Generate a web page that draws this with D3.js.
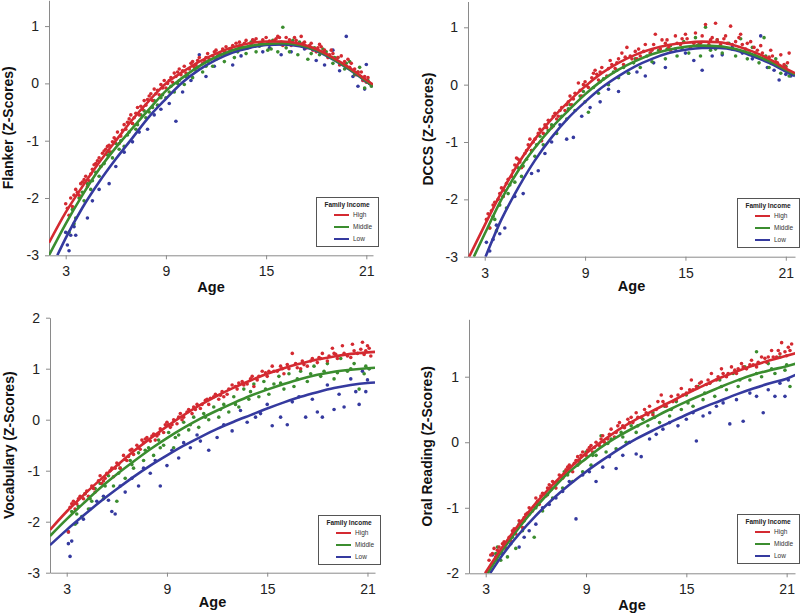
<!DOCTYPE html>
<html><head><meta charset="utf-8">
<script src="https://cdn.jsdelivr.net/npm/d3@7"></script>
<style>
html,body{margin:0;padding:0;background:#fff;}
svg{display:block;}
</style></head>
<body><svg id="chart" width="800" height="613"></svg>
<script>
// ---------------- DATA ----------------
const groups = ["High", "Middle", "Low"];
const ageTicks = [3, 9, 15, 21];
const panelTitles = ["Flanker (Z-Scores)", "DCCS (Z-Scores)", "Vocabulary (Z-Scores)", "Oral Reading (Z-Scores)"];
const yTicksFlanker = [-3, -2, -1, 0, 1];
const yTicksDCCS = [-3, -2, -1, 0, 1];
const yTicksVocab = [-3, -2, -1, 0, 1, 2];
const yTicksReading = [-2, -1, 0, 1];

// fitted curves [age, z]
const flankerHighFit = [[2,-2.78],[3,-2.25],[4,-1.8],[5,-1.38],[6,-1.0],[7,-0.63],[8,-0.3],[9,0.0],[10,0.2],[11,0.38],[12,0.52],[13,0.63],[14,0.7],[15,0.73],[16,0.73],[17,0.69],[18,0.6],[19,0.45],[20,0.27],[21,0.06],[21.4,-0.02]];
const flankerMiddleFit = [[2,-3.0],[3,-2.45],[4,-1.95],[5,-1.5],[6,-1.12],[7,-0.78],[8,-0.45],[9,-0.13],[10,0.1],[11,0.3],[12,0.46],[13,0.58],[14,0.65],[15,0.69],[16,0.7],[17,0.67],[18,0.58],[19,0.43],[20,0.25],[21,0.04],[21.4,-0.05]];
const flankerLowFit = [[2.5,-3.0],[3,-2.7],[4,-2.17],[5,-1.72],[6,-1.32],[7,-0.95],[8,-0.58],[9,-0.27],[10,0.02],[11,0.24],[12,0.41],[13,0.54],[14,0.62],[15,0.67],[16,0.68],[17,0.65],[18,0.57],[19,0.42],[20,0.24],[21,0.03],[21.4,-0.05]];

const dccsHighFit = [[2.07,-3.0],[3,-2.45],[4,-1.88],[5,-1.38],[6,-0.95],[7,-0.6],[8,-0.3],[9,-0.03],[10,0.2],[11,0.38],[12,0.52],[13,0.62],[14,0.69],[15,0.73],[16,0.75],[17,0.74],[18,0.68],[19,0.58],[20,0.45],[21,0.28],[21.55,0.2]];
const dccsMiddleFit = [[2.35,-3.0],[3,-2.6],[4,-2.0],[5,-1.5],[6,-1.1],[7,-0.75],[8,-0.45],[9,-0.17],[10,0.07],[11,0.26],[12,0.41],[13,0.53],[14,0.61],[15,0.66],[16,0.68],[17,0.67],[18,0.62],[19,0.53],[20,0.41],[21,0.26],[21.55,0.18]];
const dccsLowFit = [[3.05,-3.0],[4,-2.35],[5,-1.8],[6,-1.32],[7,-0.92],[8,-0.58],[9,-0.3],[10,-0.05],[11,0.15],[12,0.32],[13,0.45],[14,0.55],[15,0.61],[16,0.64],[17,0.64],[18,0.6],[19,0.5],[20,0.38],[21,0.23],[21.55,0.15]];

const vocabHighFit = [[2,-2.16],[3,-1.8],[4,-1.48],[5,-1.18],[6,-0.9],[7,-0.62],[8,-0.37],[9,-0.13],[10,0.09],[11,0.29],[12,0.47],[13,0.63],[14,0.77],[15,0.9],[16,1.01],[17,1.1],[18,1.18],[19,1.24],[20,1.29],[21,1.32],[21.45,1.33]];
const vocabMiddleFit = [[2,-2.28],[3,-1.95],[4,-1.64],[5,-1.34],[6,-1.07],[7,-0.82],[8,-0.58],[9,-0.36],[10,-0.16],[11,0.02],[12,0.18],[13,0.33],[14,0.47],[15,0.59],[16,0.7],[17,0.8],[18,0.88],[19,0.94],[20,0.98],[21,1.01],[21.45,1.02]];
const vocabLowFit = [[2,-2.46],[3,-2.16],[4,-1.88],[5,-1.61],[6,-1.36],[7,-1.12],[8,-0.9],[9,-0.7],[10,-0.51],[11,-0.34],[12,-0.18],[13,-0.04],[14,0.09],[15,0.22],[16,0.34],[17,0.45],[18,0.54],[19,0.62],[20,0.68],[21,0.72],[21.45,0.73]];

const readingHighFit = [[2.96,-2.0],[4,-1.6],[5,-1.25],[6,-0.93],[7,-0.65],[8,-0.4],[9,-0.17],[10,0.02],[11,0.2],[12,0.35],[13,0.48],[14,0.61],[15,0.74],[16,0.86],[17,0.98],[18,1.08],[19,1.17],[20,1.25],[21,1.32],[21.55,1.36]];
const readingMiddleFit = [[3.1,-2.0],[4,-1.65],[5,-1.3],[6,-0.99],[7,-0.71],[8,-0.45],[9,-0.25],[10,-0.06],[11,0.1],[12,0.24],[13,0.37],[14,0.5],[15,0.62],[16,0.73],[17,0.84],[18,0.94],[19,1.03],[20,1.1],[21,1.16],[21.55,1.2]];
const readingLowFit = [[3.26,-2.0],[4,-1.72],[5,-1.4],[6,-1.12],[7,-0.87],[8,-0.65],[9,-0.45],[10,-0.27],[11,-0.1],[12,0.05],[13,0.18],[14,0.3],[15,0.42],[16,0.53],[17,0.63],[18,0.73],[19,0.82],[20,0.9],[21,0.97],[21.55,1.03]];

// observed points [age, z]
const flankerHighPts = [[3.1,-2.18],[3.3,-2.0],[3.4,-2.15],[3.6,-1.85],[3.8,-1.95],[4.0,-1.72],[4.2,-1.62],[4.4,-1.7],[4.6,-1.5],[4.8,-1.4],[5.0,-1.3],[5.2,-1.22],[5.3,-1.18],[5.5,-1.1],[5.7,-1.2],[5.9,-0.95],[6.1,-0.85],[6.3,-0.92],[6.5,-0.72],[6.7,-0.68],[6.9,-0.55],[7.1,-0.6],[7.3,-0.42],[7.5,-0.4],[7.7,-0.3],[7.9,-0.28],[8.1,-0.18],[8.3,-0.1],[8.5,-0.12],[8.7,-0.02],[8.9,0.05],[9.1,0.0],[9.3,0.1],[9.5,0.18],[9.7,0.2],[9.9,0.15],[10.1,0.3],[10.4,0.25],[10.6,0.38],[10.8,0.32],[11.0,0.45],[11.3,0.4],[11.5,0.52],[11.8,0.48],[12.0,0.58],[12.3,0.5],[12.6,0.64],[12.9,0.6],[13.2,0.7],[13.5,0.65],[13.8,0.75],[14.1,0.68],[14.4,0.78],[14.7,0.7],[15.0,0.8],[15.3,0.68],[15.6,0.78],[15.9,0.72],[16.2,0.8],[16.5,0.66],[16.8,0.75],[17.1,0.82],[17.4,0.62],[17.7,0.7],[18.0,0.55],[18.3,0.64],[18.6,0.5],[18.9,0.58],[19.2,0.4],[19.5,0.48],[19.8,0.3],[20.1,0.35],[20.4,0.15],[20.7,0.2],[21.0,0.02],[21.1,0.1],
 [3.2,-2.3],[3.5,-1.95],[3.9,-1.75],[4.3,-1.8],[4.7,-1.42],[5.1,-1.45],[5.4,-1.15],[5.8,-1.02],[6.2,-1.05],[6.6,-0.8],[7.0,-0.7],[7.4,-0.55],[7.8,-0.38],[8.2,-0.3],[8.6,-0.2],[9.0,-0.08],[9.4,0.02],[9.8,0.25],[10.2,0.18],[10.7,0.28],[11.2,0.35],[11.6,0.42],[12.1,0.48],[12.5,0.56],[13.0,0.66],[13.4,0.72],[13.9,0.63],[14.3,0.74],[14.8,0.76],[15.2,0.74],[15.7,0.82],[16.0,0.66],[16.4,0.76],[16.9,0.68],[17.3,0.72],[17.8,0.58],[18.2,0.68],[18.7,0.45],[19.0,0.52],[19.4,0.32],[19.9,0.42],[20.3,0.25],[20.8,0.05],[21.2,0.0],
 [3.0,-2.1],[3.7,-1.9],[4.1,-1.68],[4.5,-1.58],[4.9,-1.35],[5.6,-1.08],[6.0,-0.98],[6.4,-0.82],[6.8,-0.62],[7.2,-0.52],[7.6,-0.45],[8.0,-0.22],[8.4,-0.18],[8.8,-0.08],[9.2,0.05],[9.6,0.12],[10.0,0.22],[10.5,0.35],[10.9,0.4],[11.4,0.45],[11.9,0.55],[12.4,0.6],[12.8,0.55],[13.3,0.6],[13.7,0.7],[14.2,0.76],[14.6,0.68],[15.1,0.7],[15.5,0.75],[15.8,0.8],[16.3,0.7],[16.7,0.8],[17.2,0.7],[17.6,0.66],[18.1,0.62],[18.5,0.58],[18.8,0.5],[19.3,0.45],[19.7,0.38],[20.0,0.28],[20.5,0.2],[20.9,0.12]];
const flankerMiddlePts = [[3.2,-2.6],[3.4,-2.2],[3.6,-2.35],[3.8,-2.0],[4.1,-2.05],[4.3,-1.75],[4.5,-1.85],[4.8,-1.55],[5.0,-1.62],[5.3,-1.4],[5.5,-1.25],[5.8,-1.3],[6.0,-1.05],[6.3,-1.0],[6.5,-1.1],[6.8,-0.85],[7.0,-0.7],[7.3,-0.72],[7.5,-0.55],[7.8,-0.6],[8.0,-0.5],[8.3,-0.3],[8.5,-0.38],[8.8,-0.2],[9.0,-0.25],[9.3,-0.05],[9.5,-0.15],[9.8,0.05],[10.1,-0.02],[10.3,0.15],[10.6,0.1],[10.9,0.28],[11.2,0.2],[11.5,0.38],[11.8,0.3],[12.2,0.5],[12.5,0.38],[12.8,0.6],[13.1,0.45],[13.4,0.65],[13.8,0.52],[14.1,0.72],[14.4,0.55],[14.8,0.68],[15.1,0.58],[15.4,0.75],[15.7,0.55],[16.0,0.98],[16.2,0.62],[16.6,0.75],[16.9,0.5],[17.2,0.65],[17.5,0.42],[17.9,0.62],[18.2,0.5],[18.6,0.55],[19.0,0.35],[19.3,0.45],[19.7,0.25],[20.0,0.38],[20.3,0.15],[20.6,0.28],[20.9,-0.08],[21.1,0.05],[21.3,-0.05],
 [3.5,-2.45],[4.0,-1.9],[4.6,-1.7],[5.1,-1.45],[5.6,-1.2],[6.2,-1.15],[6.7,-0.9],[7.2,-0.8],[7.7,-0.48],[8.2,-0.42],[8.7,-0.25],[9.2,-0.15],[9.7,0.0],[10.2,0.12],[10.8,0.22],[11.4,0.3],[12.0,0.42],[12.6,0.52],[13.3,0.55],[13.9,0.62],[14.6,0.65],[15.3,0.6],[15.9,0.68],[16.4,0.55],[17.0,0.72],[17.7,0.52],[18.4,0.6],[19.1,0.45],[19.8,0.35],[20.5,0.2],[21.2,0.0]];
const flankerLowPts = [[3.0,-2.6],[3.1,-2.82],[3.2,-2.92],[3.3,-2.65],[3.5,-2.5],[3.6,-2.65],[4.3,-2.35],[4.6,-2.05],[5.0,-1.85],[5.6,-1.75],[6.0,-1.45],[6.5,-1.2],[7.0,-1.02],[7.4,-0.85],[7.9,-0.8],[8.3,-0.55],[8.7,-0.45],[9.2,-0.35],[9.6,-0.66],[10.0,-0.15],[10.5,0.05],[11.0,0.5],[11.4,0.12],[11.9,0.3],[12.5,0.52],[13.0,0.32],[13.5,0.48],[14.2,0.75],[14.8,0.55],[15.2,0.62],[15.9,0.5],[16.5,0.55],[17.3,0.6],[18.0,0.4],[18.5,0.32],[19.0,0.58],[19.4,0.22],[19.8,0.82],[20.2,0.12],[20.5,-0.05],[20.8,0.05],[21.0,0.33],[20.9,-0.1]];

const dccsHighPts = [[3.1,-2.35],[3.2,-2.25],[3.4,-2.2],[3.6,-2.05],[3.8,-2.0],[4.0,-1.8],[4.2,-1.85],[4.4,-1.65],[4.6,-1.6],[4.8,-1.4],[5.0,-1.3],[5.2,-1.45],[5.4,-1.2],[5.6,-1.05],[5.8,-1.15],[6.0,-0.95],[6.2,-0.85],[6.4,-0.98],[6.6,-0.7],[6.8,-0.62],[7.0,-0.75],[7.2,-0.5],[7.4,-0.55],[7.6,-0.4],[7.8,-0.45],[8.0,-0.3],[8.2,-0.35],[8.4,-0.15],[8.6,0.03],[8.8,-0.2],[9.0,0.05],[9.2,-0.05],[9.4,0.12],[9.6,0.25],[9.8,0.08],[10.0,0.3],[10.3,0.15],[10.5,0.42],[10.8,0.28],[11.0,0.45],[11.3,0.35],[11.5,0.65],[11.8,0.45],[12.0,0.58],[12.3,0.5],[12.6,0.7],[12.9,0.55],[13.2,0.88],[13.5,0.62],[13.8,0.72],[14.1,0.6],[14.4,0.85],[14.7,0.7],[15.0,0.88],[15.3,0.65],[15.6,0.9],[15.9,0.72],[16.2,1.05],[16.5,0.78],[16.8,1.07],[17.1,0.7],[17.4,0.85],[17.7,1.02],[18.0,0.75],[18.3,0.88],[18.6,0.62],[18.9,0.75],[19.2,0.55],[19.5,0.68],[19.8,0.45],[20.1,0.6],[20.4,0.4],[20.7,0.52],[21.0,0.25],[21.1,0.38],[21.2,0.55],
 [3.3,-2.5],[4.1,-1.95],[4.9,-1.28],[5.7,-0.95],[6.5,-0.85],[7.3,-0.6],[8.1,-0.2],[8.9,0.0],[9.7,0.18],[10.6,0.35],[11.4,0.48],[12.2,0.62],[13.0,0.6],[13.9,0.78],[14.8,0.8],[15.7,0.68],[16.6,0.82],[17.5,0.72],[18.4,0.7],[19.3,0.6],[20.2,0.5],[20.9,0.35],
 [3.5,-2.1],[3.9,-1.9],[4.3,-1.72],[4.7,-1.5],[5.1,-1.35],[5.5,-1.15],[5.9,-1.0],[6.3,-0.78],[6.7,-0.75],[7.1,-0.55],[7.5,-0.45],[7.9,-0.35],[8.3,-0.25],[8.7,-0.1],[9.1,-0.02],[9.5,0.2],[9.9,0.22],[10.4,0.28],[10.9,0.38],[11.2,0.55],[11.7,0.5],[12.1,0.45],[12.5,0.58],[13.1,0.7],[13.6,0.78],[14.0,0.65],[14.5,0.72],[15.1,0.8],[15.5,0.72],[16.0,0.85],[16.4,0.7],[16.9,0.78],[17.3,0.8],[17.8,0.7],[18.2,0.82],[18.7,0.72],[19.1,0.65],[19.6,0.55],[20.0,0.48],[20.5,0.38],[21.0,0.3]];
const dccsMiddlePts = [[3.3,-2.5],[3.5,-2.3],[3.7,-2.55],[3.9,-2.1],[4.1,-1.95],[4.3,-2.15],[4.5,-1.75],[4.8,-1.7],[5.0,-1.45],[5.2,-1.6],[5.5,-1.3],[5.8,-1.15],[6.0,-1.25],[6.3,-0.9],[6.5,-1.05],[6.8,-0.8],[7.0,-0.7],[7.3,-0.85],[7.6,-0.55],[7.9,-0.6],[8.1,-0.35],[8.4,-0.45],[8.7,-0.2],[9.0,-0.3],[9.2,-0.48],[9.5,-0.05],[9.8,-0.15],[10.1,0.1],[10.4,0.0],[10.7,0.22],[11.0,0.12],[11.3,0.3],[11.6,0.2],[12.0,0.45],[12.3,0.3],[12.7,0.5],[13.0,0.4],[13.4,0.6],[13.8,0.45],[14.1,0.68],[14.5,0.5],[14.9,0.75],[15.2,0.55],[15.6,0.82],[15.9,0.5],[16.2,1.0],[16.5,0.6],[16.9,0.78],[17.2,0.55],[17.6,0.72],[18.0,0.5],[18.3,0.8],[18.7,0.45],[19.0,0.65],[19.4,0.38],[19.7,0.82],[20.0,0.3],[20.4,0.45],[20.7,0.2],[21.0,0.32],[21.2,0.15],
 [3.6,-2.35],[4.4,-1.9],[5.3,-1.42],[6.1,-1.05],[7.1,-0.72],[8.0,-0.42],[8.9,-0.12],[9.9,0.05],[10.9,0.25],[11.9,0.38],[12.9,0.55],[13.9,0.62],[14.8,0.62],[15.8,0.7],[16.8,0.62],[17.8,0.62],[18.8,0.55],[19.8,0.5],[20.8,0.28]];
const dccsLowPts = [[3.1,-2.75],[3.3,-2.9],[3.5,-2.7],[3.7,-2.45],[3.9,-2.6],[4.2,-2.5],[4.8,-1.95],[5.3,-1.9],[5.8,-1.55],[6.2,-1.5],[6.6,-1.2],[7.0,-1.0],[7.5,-0.7],[7.9,-0.95],[8.3,-0.92],[8.8,-0.55],[9.3,-0.4],[9.9,-0.3],[10.4,-0.08],[11.0,-0.12],[11.6,0.2],[12.1,0.22],[12.6,0.15],[13.1,0.38],[13.8,0.3],[14.4,0.62],[15.0,0.55],[15.5,0.42],[16.0,0.25],[16.6,0.5],[17.2,0.52],[17.8,0.65],[18.4,0.55],[19.0,0.45],[19.5,0.85],[19.9,0.3],[20.3,0.25],[20.6,0.08],[21.0,0.18],[21.3,0.15]];

const vocabHighPts = [[3.1,-2.2],[3.2,-1.72],[3.4,-1.6],[3.6,-1.65],[3.8,-1.5],[4.0,-1.55],[4.2,-1.4],[4.5,-1.3],[4.7,-1.42],[5.0,-1.1],[5.2,-1.2],[5.4,-1.05],[5.6,-1.0],[5.8,-1.12],[6.0,-0.85],[6.2,-0.95],[6.4,-0.7],[6.6,-0.8],[6.8,-0.6],[7.0,-0.68],[7.2,-0.5],[7.4,-0.58],[7.6,-0.45],[7.8,-0.35],[8.0,-0.42],[8.2,-0.28],[8.4,-0.32],[8.6,-0.18],[8.8,-0.25],[9.0,-0.05],[9.2,-0.15],[9.4,0.0],[9.6,-0.08],[9.8,0.12],[10.0,0.05],[10.3,0.2],[10.5,0.12],[10.8,0.3],[11.0,0.22],[11.3,0.38],[11.5,0.3],[11.8,0.45],[12.1,0.4],[12.3,0.55],[12.6,0.5],[12.9,0.68],[13.2,0.6],[13.5,0.75],[13.8,0.7],[14.1,0.85],[14.4,0.78],[14.7,0.95],[15.0,0.85],[15.3,1.05],[15.6,0.95],[15.9,1.0],[16.2,1.08],[16.5,1.3],[16.8,1.02],[17.1,1.15],[17.4,1.05],[17.7,1.2],[18.0,1.12],[18.3,1.3],[18.6,1.15],[18.9,1.4],[19.2,1.2],[19.5,1.45],[19.8,1.25],[20.1,1.48],[20.4,1.3],[20.7,1.52],[20.9,1.35],[21.1,1.4],[21.2,1.25],
 [3.5,-1.75],[4.3,-1.5],[5.1,-1.25],[5.9,-0.95],[6.7,-0.72],[7.5,-0.4],[8.3,-0.4],[9.1,-0.1],[9.9,0.0],[10.7,0.2],[11.6,0.42],[12.4,0.45],[13.3,0.72],[14.2,0.65],[15.1,0.95],[16.0,0.9],[17.0,1.0],[18.1,1.22],[19.0,1.3],[20.0,1.22],[20.6,1.38],
 [3.3,-1.65],[3.7,-1.55],[4.1,-1.45],[4.6,-1.35],[4.9,-1.2],[5.3,-1.15],[5.7,-0.95],[6.1,-0.88],[6.5,-0.78],[6.9,-0.58],[7.3,-0.55],[7.7,-0.38],[8.1,-0.32],[8.5,-0.28],[8.9,-0.1],[9.3,-0.1],[9.7,0.05],[10.2,0.15],[10.6,0.25],[11.1,0.3],[11.4,0.4],[11.9,0.5],[12.2,0.48],[12.7,0.6],[13.1,0.65],[13.6,0.68],[14.0,0.8],[14.5,0.85],[14.9,0.92],[15.4,0.95],[15.8,1.05],[16.3,1.0],[16.7,1.1],[17.2,1.08],[17.6,1.15],[18.2,1.2],[18.7,1.25],[19.1,1.28],[19.6,1.3],[20.2,1.35],[20.8,1.28],[21.0,1.45]];
const vocabMiddlePts = [[3.3,-1.8],[3.5,-2.05],[3.7,-1.7],[3.9,-1.9],[4.1,-1.45],[4.3,-1.75],[4.5,-1.6],[4.7,-1.35],[5.0,-1.25],[5.2,-1.55],[5.5,-1.1],[5.8,-1.3],[6.0,-1.6],[6.2,-0.95],[6.5,-1.15],[6.8,-0.8],[7.0,-0.95],[7.3,-0.65],[7.6,-0.8],[7.9,-0.55],[8.2,-0.7],[8.5,-0.4],[8.8,-0.5],[9.1,-0.25],[9.4,-0.55],[9.7,-0.3],[10.0,-0.05],[10.3,-0.2],[10.6,0.05],[10.9,-0.15],[11.2,0.12],[11.5,0.0],[11.8,0.25],[12.1,0.05],[12.4,0.3],[12.7,0.15],[13.0,0.45],[13.3,0.25],[13.6,0.6],[13.9,0.4],[14.2,0.7],[14.5,0.45],[14.8,0.75],[15.1,0.5],[15.4,0.7],[15.7,0.85],[16.0,0.6],[16.3,0.9],[16.6,0.65],[17.0,0.95],[17.4,0.75],[17.8,1.05],[18.2,0.85],[18.6,1.1],[19.0,0.8],[19.4,1.2],[19.8,0.95],[20.2,1.1],[20.5,0.6],[20.8,0.9],[21.1,1.0],
 [3.6,-1.85],[4.4,-1.55],[5.3,-1.3],[6.1,-1.05],[6.9,-0.88],[7.7,-0.6],[8.6,-0.55],[9.5,-0.35],[10.4,-0.1],[11.3,0.05],[12.2,0.2],[13.1,0.3],[14.0,0.55],[14.9,0.6],[15.8,0.72],[16.8,0.8],[17.6,0.9],[18.4,0.95],[19.2,0.92],[20.0,1.0],[20.9,1.05]];
const vocabLowPts = [[3.1,-2.2],[3.1,-2.43],[3.2,-2.68],[3.3,-2.38],[3.6,-2.02],[4.0,-1.95],[4.4,-1.75],[4.8,-1.6],[5.2,-1.5],[5.5,-1.58],[5.7,-1.8],[5.9,-1.85],[6.2,-1.3],[6.5,-1.42],[6.9,-1.15],[7.3,-1.3],[7.6,-0.95],[8.0,-1.05],[8.3,-0.8],[8.6,-1.3],[9.0,-0.9],[9.3,-0.6],[9.7,-0.75],[10.0,-0.45],[10.4,-0.55],[10.8,-0.3],[11.0,-0.42],[11.5,-0.6],[12.0,-0.35],[12.4,-0.1],[12.9,-0.22],[13.4,0.18],[13.8,-0.05],[14.3,0.05],[14.6,0.12],[15.0,0.3],[15.3,-0.12],[15.8,0.05],[16.2,-0.1],[16.5,0.35],[16.9,0.45],[17.3,0.05],[17.7,0.4],[18.0,0.15],[18.3,0.05],[18.6,0.68],[19.0,0.2],[19.3,0.5],[19.6,0.25],[20.0,0.8],[20.3,0.55],[20.5,0.3],[20.7,0.95],[20.9,0.55],[21.0,0.78],[21.1,1.0]];

const readingHighPts = [[3.2,-1.8],[3.4,-1.7],[3.6,-1.75],[3.8,-1.6],[4.0,-1.55],[4.2,-1.62],[4.4,-1.45],[4.6,-1.35],[4.8,-1.4],[5.0,-1.2],[5.2,-1.3],[5.4,-1.1],[5.6,-1.0],[5.8,-1.05],[6.0,-0.85],[6.2,-0.95],[6.4,-0.78],[6.6,-0.82],[6.8,-0.65],[7.0,-0.6],[7.2,-0.7],[7.4,-0.5],[7.6,-0.55],[7.8,-0.42],[8.0,-0.35],[8.2,-0.45],[8.4,-0.28],[8.6,-0.32],[8.8,-0.15],[9.0,-0.2],[9.2,-0.08],[9.4,-0.15],[9.6,0.0],[9.8,-0.05],[10.0,0.1],[10.3,0.05],[10.5,0.2],[10.8,0.15],[11.0,0.3],[11.3,0.22],[11.5,0.35],[11.8,0.3],[12.0,0.45],[12.3,0.38],[12.5,0.5],[12.8,0.55],[13.0,0.42],[13.3,0.62],[13.5,0.72],[13.8,0.55],[14.1,0.7],[14.4,0.65],[14.7,0.82],[15.0,0.75],[15.3,0.95],[15.6,0.85],[15.9,0.92],[16.2,0.88],[16.5,1.05],[16.8,0.95],[17.1,1.12],[17.4,1.0],[17.7,1.15],[18.0,1.05],[18.3,1.2],[18.6,1.12],[18.9,1.25],[19.2,1.15],[19.5,1.3],[19.8,1.22],[20.1,1.4],[20.4,1.3],[20.7,1.52],[20.9,1.38],[21.1,1.45],[21.3,1.5],
 [3.5,-1.62],[4.5,-1.5],[5.3,-1.15],[6.1,-0.9],[6.9,-0.72],[7.7,-0.48],[8.5,-0.22],[9.3,-0.05],[10.1,0.0],[10.9,0.25],[11.7,0.38],[12.6,0.45],[13.6,0.62],[14.5,0.72],[15.4,0.8],[16.3,0.95],[17.2,1.05],[18.1,1.12],[19.0,1.18],[19.9,1.3],[20.6,1.35],
 [3.3,-1.72],[3.7,-1.65],[4.1,-1.52],[4.7,-1.32],[5.1,-1.22],[5.5,-1.08],[5.9,-0.98],[6.3,-0.82],[6.7,-0.7],[7.1,-0.62],[7.5,-0.52],[7.9,-0.38],[8.3,-0.32],[8.7,-0.2],[9.1,-0.12],[9.5,-0.08],[9.9,0.05],[10.4,0.12],[10.7,0.08],[11.2,0.25],[11.6,0.3],[12.1,0.38],[12.7,0.42],[13.2,0.5],[13.7,0.58],[14.2,0.62],[14.8,0.72],[15.2,0.8],[15.8,0.9],[16.4,0.9],[16.9,1.0],[17.5,1.05],[17.9,1.1],[18.4,1.15],[18.8,1.18],[19.3,1.22],[19.7,1.28],[20.2,1.3],[20.5,1.4],[21.0,1.32],[21.2,1.4]];
const readingMiddlePts = [[3.4,-1.85],[3.6,-1.7],[3.9,-1.8],[4.1,-1.55],[4.3,-1.75],[4.6,-1.45],[4.8,-1.62],[5.0,-1.25],[5.3,-1.2],[5.6,-1.1],[5.9,-1.45],[6.1,-0.95],[6.4,-1.05],[6.7,-0.8],[7.0,-0.85],[7.3,-0.6],[7.6,-0.7],[7.9,-0.5],[8.2,-0.6],[8.5,-0.35],[8.8,-0.45],[9.0,-0.15],[9.3,-0.35],[9.6,-0.2],[9.9,0.1],[10.2,-0.15],[10.5,0.05],[10.8,-0.1],[11.1,0.15],[11.4,0.0],[11.7,0.25],[12.0,0.15],[12.4,0.35],[12.7,0.25],[13.0,0.45],[13.4,0.3],[13.7,0.55],[14.0,0.4],[14.4,0.62],[14.7,0.5],[15.0,0.72],[15.4,0.55],[15.7,0.85],[16.0,0.65],[16.4,0.9],[16.7,0.7],[17.0,0.95],[17.4,0.8],[17.8,1.05],[18.1,0.85],[18.5,1.15],[18.8,0.95],[19.2,1.38],[19.5,1.0],[19.9,1.2],[20.3,1.05],[20.6,1.3],[20.9,1.1],[21.2,0.85],
 [3.7,-1.6],[4.4,-1.5],[5.2,-1.35],[6.0,-1.0],[6.9,-0.7],[7.7,-0.45],[8.6,-0.28],[9.4,-0.2],[10.3,-0.02],[11.2,0.08],[12.1,0.25],[13.1,0.38],[14.1,0.5],[15.1,0.6],[16.1,0.75],[17.1,0.85],[18.2,0.95],[19.2,1.05],[20.1,1.12],[21.0,1.18]];
const readingLowPts = [[3.4,-1.72],[3.7,-1.8],[4.0,-1.7],[4.5,-1.55],[5.0,-1.6],[5.3,-1.45],[5.6,-1.35],[6.0,-1.25],[6.4,-1.0],[6.8,-0.95],[7.2,-0.85],[7.6,-0.75],[8.0,-0.6],[8.4,-1.17],[8.8,-0.5],[9.2,-0.45],[9.6,-0.6],[10.0,-0.38],[10.4,-0.22],[10.8,-0.4],[11.2,-0.2],[11.6,0.0],[12.0,-0.18],[12.3,-0.22],[12.8,0.05],[13.2,0.12],[13.6,0.2],[14.0,0.3],[14.5,0.25],[15.0,0.35],[15.4,0.45],[15.6,0.02],[16.0,0.4],[16.4,0.45],[16.8,0.55],[17.2,0.6],[17.6,0.28],[18.0,0.65],[18.4,0.32],[18.8,0.75],[19.2,0.7],[19.6,0.45],[19.9,0.8],[20.3,0.7],[20.6,0.9],[20.9,0.7],[21.1,0.95]];

// ---------------- LAYOUT ----------------
const colors = {High: "#d42a31", Middle: "#3b8d2f", Low: "#353a9f"};
const panels = [
  {title: panelTitles[0], yTicks: yTicksFlanker, fits: [flankerHighFit, flankerMiddleFit, flankerLowFit], pts: [flankerHighPts, flankerMiddlePts, flankerLowPts],
   xr: [49, 373], xd: [2, 21.4], yr: [255.3, 0.3], yd: [-3, 1.45], ylabX: 13, ageY: 292, leg: [316, 197]},
  {title: panelTitles[1], yTicks: yTicksDCCS, fits: [dccsHighFit, dccsMiddleFit, dccsLowFit], pts: [dccsHighPts, dccsMiddlePts, dccsLowPts],
   xr: [468, 795], xd: [2, 21.55], yr: [256.7, 1.5], yd: [-3, 1.45], ylabX: 433, ageY: 291, leg: [737, 198]},
  {title: panelTitles[2], yTicks: yTicksVocab, fits: [vocabHighFit, vocabMiddleFit, vocabLowFit], pts: [vocabHighPts, vocabMiddlePts, vocabLowPts],
   xr: [50, 375], xd: [2, 21.45], yr: [572.7, 317.7], yd: [-3, 2], ylabX: 14, ageY: 607, leg: [318, 515]},
  {title: panelTitles[3], yTicks: yTicksReading, fits: [readingHighFit, readingMiddleFit, readingLowFit], pts: [readingHighPts, readingMiddlePts, readingLowPts],
   xr: [469, 795], xd: [2, 21.5], yr: [573.3, 319.3], yd: [-2, 1.876], ylabX: 432, ageY: 610, leg: [737, 514]}
];

const svg = d3.select("#chart");
const FONT = "'Liberation Sans', Arial, sans-serif";

panels.forEach((p, pi) => {
  const x = d3.scaleLinear().domain(p.xd).range(p.xr);
  const y = d3.scaleLinear().domain(p.yd).range(p.yr);
  const g = svg.append("g");

  const clipId = "clip" + pi;
  svg.append("clipPath").attr("id", clipId).append("rect")
    .attr("x", p.xr[0]).attr("y", p.yr[1]).attr("width", p.xr[1] - p.xr[0]).attr("height", p.yr[0] - p.yr[1]);

  const xAxis = d3.axisBottom(x).tickValues(ageTicks).tickSize(4).tickSizeOuter(0).tickPadding(7);
  const yAxis = d3.axisLeft(y).tickValues(p.yTicks).tickSize(4).tickSizeOuter(0).tickPadding(6)
    .tickFormat(d => String(d));
  const gx = g.append("g").attr("transform", `translate(0,${p.yr[0]})`).call(xAxis);
  const gy = g.append("g").attr("transform", `translate(${p.xr[0]},0)`).call(yAxis);
  [gx, gy].forEach(a => {
    a.select(".domain").attr("stroke", "#8a8a8a").attr("stroke-width", 1);
    a.selectAll(".tick line").attr("stroke", "#8a8a8a");
    a.selectAll(".tick text").attr("font-family", FONT).attr("font-size", 14).attr("fill", "#222");
  });

  const plot = g.append("g").attr("clip-path", `url(#${clipId})`);
  [2, 1, 0].forEach(gi => {
    plot.append("g").selectAll("circle").data(p.pts[gi]).join("circle")
      .attr("cx", d => x(d[0])).attr("cy", d => y(d[1])).attr("r", 1.8)
      .attr("fill", colors[groups[gi]]);
  });
  const line = d3.line().x(d => x(d[0])).y(d => y(d[1])).curve(d3.curveMonotoneX);
  [2, 1, 0].forEach(gi => {
    plot.append("path").datum(p.fits[gi]).attr("d", line)
      .attr("fill", "none").attr("stroke", colors[groups[gi]]).attr("stroke-width", 2.6);
  });

  g.append("text").attr("x", (p.xr[0] + p.xr[1]) / 2).attr("y", p.ageY)
    .attr("text-anchor", "middle").attr("font-family", FONT).attr("font-weight", "bold")
    .attr("font-size", 14.5).attr("fill", "#111").text("Age");
  g.append("text").attr("transform", `translate(${p.ylabX},${(p.yr[0] + p.yr[1]) / 2}) rotate(-90)`)
    .attr("text-anchor", "middle").attr("font-family", FONT).attr("font-weight", "bold")
    .attr("font-size", 14).attr("fill", "#111").text(p.title);

  const lg = g.append("g").attr("transform", `translate(${p.leg[0]},${p.leg[1]})`);
  lg.append("rect").attr("x", 0.5).attr("y", 0.5).attr("width", 62).attr("height", 49)
    .attr("fill", "#fff").attr("stroke", "#555").attr("stroke-width", 1);
  lg.append("text").attr("x", 31).attr("y", 9.5).attr("text-anchor", "middle")
    .attr("font-family", FONT).attr("font-weight", "bold").attr("font-size", 6.5).attr("fill", "#222").text("Family Income");
  groups.forEach((gr, i) => {
    const yy = 18 + i * 12;
    lg.append("line").attr("x1", 18).attr("x2", 33).attr("y1", yy).attr("y2", yy)
      .attr("stroke", colors[gr]).attr("stroke-width", 2);
    lg.append("text").attr("x", 37).attr("y", yy + 2.3).attr("font-family", FONT)
      .attr("font-size", 6.5).attr("fill", "#333").text(gr);
  });
});
</script>
</body></html>
